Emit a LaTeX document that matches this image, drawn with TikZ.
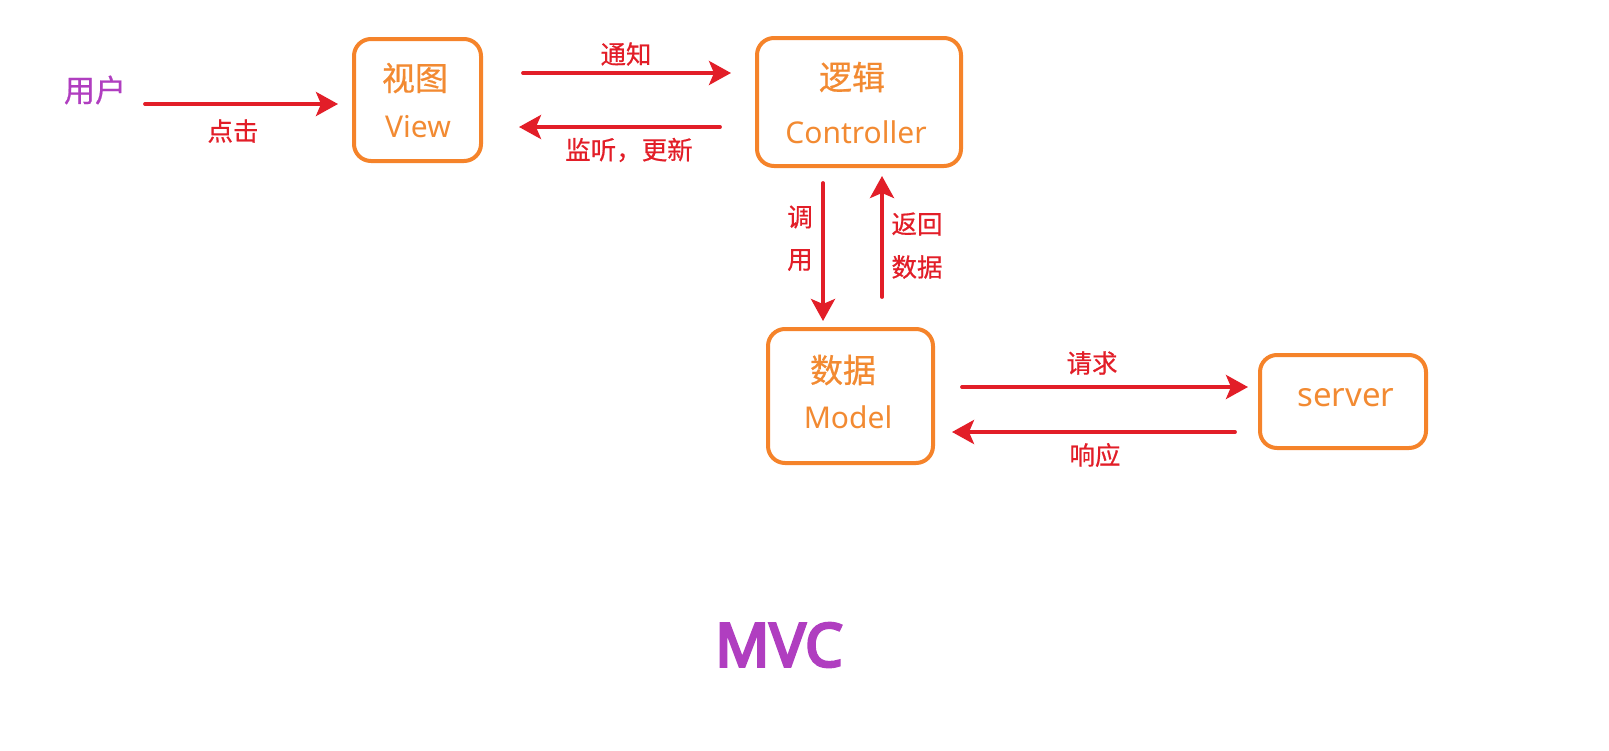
\documentclass[tikz,border=0pt]{standalone}
\usepackage{fontspec}
\usetikzlibrary{arrows.meta}
\setmainfont{Noto Sans CJK SC}
\newfontfamily\latfont{Noto Sans}
\newfontfamily\titlefont{Noto Sans}[FakeBold=4.5]
\newfontfamily\cjkbold{Noto Sans CJK SC}[FakeBold=0.6]
\definecolor{boxorange}{RGB}{245,131,42}
\definecolor{txtorange}{RGB}{242,138,50}
\definecolor{arrred}{RGB}{226,30,40}
\definecolor{userpurple}{RGB}{176,62,192}
\tikzset{
  box/.style={draw=boxorange, line width=4pt, rounded corners=17pt, inner sep=0pt},
  cjk/.style={text=txtorange, font=\cjkbold\fontsize{33}{36}\selectfont, inner sep=0pt},
  lat/.style={text=txtorange, font=\latfont\fontsize{30}{34}\selectfont, inner sep=0pt},
  lbl/.style={text=arrred, font=\cjkbold\fontsize{25.5}{28}\selectfont, inner sep=0pt},
  conn/.style={draw=arrred, line width=3.8pt, line cap=round,
    -{Stealth[length=22pt, width=24pt, inset=5pt]}}
}
\begin{document}
\begin{tikzpicture}[x=1pt, y=-1pt]
\useasboundingbox (0,0) rectangle (1609,750);
% boxes
\node[box, minimum width=127pt, minimum height=122pt] (view) at (417.5,100) {};
\node[box, minimum width=204pt, minimum height=128pt] (ctrl) at (859,102) {};
\node[box, minimum width=165pt, minimum height=134pt] (model) at (850.5,396) {};
\node[box, minimum width=166pt, minimum height=93pt] (server) at (1343,401.5) {};
% box texts
\node[cjk] (viewcn) at (415,78) {视图};
\node[lat] (viewen) at (418,127) {View};
\node[cjk] (ctrlcn) at (852,77) {逻辑};
\node[lat] (ctrlen) at (856,132) {Controller};
\node[cjk] (modelcn) at (843,370) {数据};
\node[lat] (modelen) at (848,417) {Model};
\node[lat, font=\latfont\fontsize{33}{38}\selectfont] (serveren) at (1346,398) {server};
% user
\node[text=userpurple, font=\cjkbold\fontsize{31}{36}\selectfont, inner sep=0pt] (user) at (95,90) {用户};
% title
\node[text=userpurple, font=\titlefont\fontsize{60}{66}\selectfont, inner sep=0pt] (title) at (779,645) {MVC};
% connector end points
\coordinate (a1s) at (145,104);  \coordinate (a1e) at (338,104);
\coordinate (a2s) at (523,73);   \coordinate (a2e) at (731,73);
\coordinate (a3s) at (720,127);  \coordinate (a3e) at (519,127);
\coordinate (a4s) at (823,183);  \coordinate (a4e) at (823,321);
\coordinate (a5s) at (882,297);  \coordinate (a5e) at (882,176);
\coordinate (a6s) at (962,387);  \coordinate (a6e) at (1248,387);
\coordinate (a7s) at (1235,432); \coordinate (a7e) at (952,432);
\draw[conn] (a1s) -- (a1e);
\draw[conn] (a2s) -- (a2e);
\draw[conn] (a3s) -- (a3e);
\draw[conn] (a4s) -- (a4e);
\draw[conn] (a5s) -- (a5e);
\draw[conn] (a6s) -- (a6e);
\draw[conn] (a7s) -- (a7e);
% labels
\node[lbl] (l1) at (233,131) {点击};
\node[lbl] (l2) at (626,54) {通知};
\node[lbl] (l3) at (629,150) {监听，更新};
\node[lbl] (l4a) at (800,217) {调};
\node[lbl] (l4b) at (800,260) {用};
\node[lbl] (l5a) at (917,224) {返回};
\node[lbl] (l5b) at (917,267) {数据};
\node[lbl] (l6) at (1092,363) {请求};
\node[lbl] (l7) at (1095,455) {响应};
\end{tikzpicture}
\end{document}
